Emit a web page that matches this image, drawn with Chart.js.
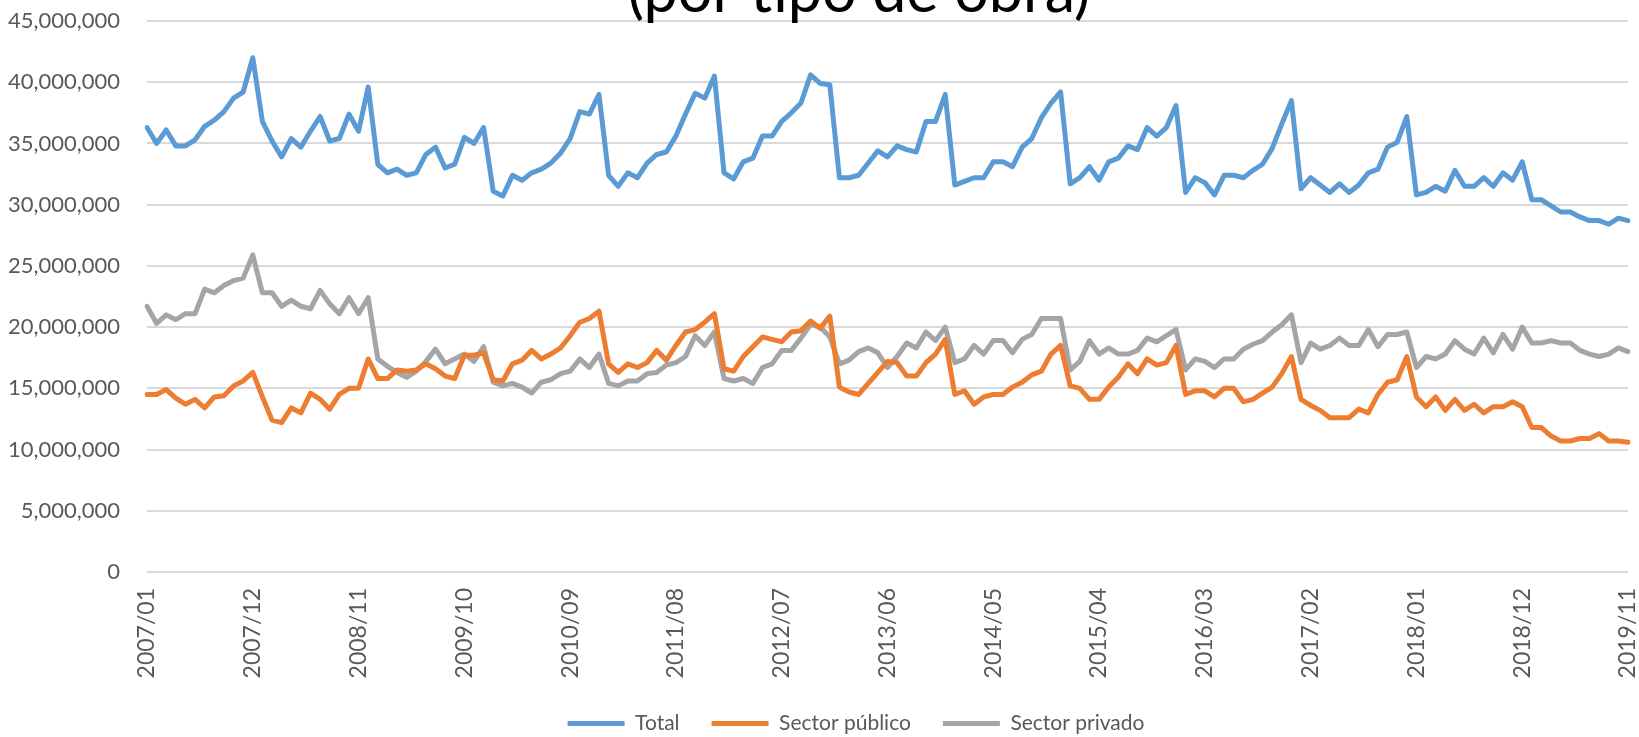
<!DOCTYPE html>
<html>
<head>
<meta charset="utf-8">
<script src="https://cdn.jsdelivr.net/npm/chart.js@4.4.1/dist/chart.umd.min.js"></script>
<style>
  html, body { margin: 0; padding: 0; background: #fff; }
</style>
</head>
<body>
<canvas id="myChart" width="1639" height="737"></canvas>
<script>
// values in millions, monthly from 2007/01 to 2019/11
const titleText = "(por tipo de obra)";
const startYear = 2007;
const monthCount = 155;
const xTickLabels = ["2007/01", "2007/12", "2008/11", "2009/10", "2010/09", "2011/08", "2012/07",
  "2013/06", "2014/05", "2015/04", "2016/03", "2017/02", "2018/01", "2018/12", "2019/11"];
const yTicks = [0, 5, 10, 15, 20, 25, 30, 35, 40, 45];

const total = [
  36.3, 35.0, 36.1, 34.8, 34.8, 35.3, 36.4, 36.9, 37.6, 38.7, 39.2, 42.0,
  36.8, 35.2, 33.9, 35.4, 34.7, 36.0, 37.2, 35.2, 35.4, 37.4, 36.0, 39.6,
  33.3, 32.6, 32.9, 32.4, 32.6, 34.1, 34.7, 33.0, 33.3, 35.5, 35.0, 36.3,
  31.1, 30.7, 32.4, 32.0, 32.6, 32.9, 33.4, 34.2, 35.4, 37.6, 37.4, 39.0,
  32.4, 31.5, 32.6, 32.2, 33.4, 34.1, 34.3, 35.6, 37.4, 39.1, 38.7, 40.5,
  32.6, 32.1, 33.5, 33.8, 35.6, 35.6, 36.8, 37.5, 38.3, 40.6, 39.9, 39.8,
  32.2, 32.2, 32.4, 33.4, 34.4, 33.9, 34.8, 34.5, 34.3, 36.8, 36.8, 39.0,
  31.6, 31.9, 32.2, 32.2, 33.5, 33.5, 33.1, 34.7, 35.4, 37.1, 38.3, 39.2,
  31.7, 32.2, 33.1, 32.0, 33.5, 33.8, 34.8, 34.5, 36.3, 35.6, 36.3, 38.1,
  31.0, 32.2, 31.8, 30.8, 32.4, 32.4, 32.2, 32.8, 33.3, 34.6, 36.6, 38.5,
  31.3, 32.2, 31.6, 31.0, 31.7, 31.0, 31.6, 32.6, 32.9, 34.7, 35.1, 37.2,
  30.8, 31.0, 31.5, 31.1, 32.8, 31.5, 31.5, 32.2, 31.5, 32.6, 32.0, 33.5,
  30.4, 30.4, 29.9, 29.4, 29.4, 29.0, 28.7, 28.7, 28.4, 28.9, 28.7
];
const publico = [
  14.5, 14.5, 14.9, 14.2, 13.7, 14.1, 13.4, 14.3, 14.4, 15.2, 15.6, 16.3,
  14.3, 12.4, 12.2, 13.4, 13.0, 14.6, 14.1, 13.3, 14.5, 15.0, 15.0, 17.4,
  15.8, 15.8, 16.5, 16.4, 16.5, 17.0, 16.6, 16.0, 15.8, 17.7, 17.7, 17.9,
  15.7, 15.6, 17.0, 17.3, 18.1, 17.4, 17.8, 18.3, 19.3, 20.4, 20.7, 21.3,
  17.0, 16.3, 17.0, 16.7, 17.1, 18.1, 17.3, 18.5, 19.6, 19.8, 20.4, 21.1,
  16.6, 16.4, 17.6, 18.4, 19.2, 19.0, 18.8, 19.6, 19.7, 20.5, 19.9, 20.9,
  15.1, 14.7, 14.5, 15.4, 16.3, 17.2, 17.1, 16.0, 16.0, 17.1, 17.8, 19.0,
  14.5, 14.8, 13.7, 14.3, 14.5, 14.5, 15.1, 15.5, 16.1, 16.4, 17.8, 18.5,
  15.2, 15.0, 14.1, 14.1, 15.1, 15.9, 17.0, 16.2, 17.4, 16.9, 17.1, 18.5,
  14.5, 14.8, 14.8, 14.3, 15.0, 15.0, 13.9, 14.1, 14.6, 15.1, 16.2, 17.6,
  14.1, 13.6, 13.2, 12.6, 12.6, 12.6, 13.3, 13.0, 14.5, 15.5, 15.7, 17.6,
  14.3, 13.5, 14.3, 13.2, 14.1, 13.2, 13.7, 13.0, 13.5, 13.5, 13.9, 13.5,
  11.8, 11.8, 11.1, 10.7, 10.7, 10.9, 10.9, 11.3, 10.7, 10.7, 10.6
];
const privado = [
  21.7, 20.3, 21.0, 20.6, 21.1, 21.1, 23.1, 22.8, 23.4, 23.8, 24.0, 25.9,
  22.8, 22.8, 21.7, 22.2, 21.7, 21.5, 23.0, 21.9, 21.1, 22.4, 21.1, 22.4,
  17.4, 16.8, 16.3, 15.9, 16.4, 17.2, 18.2, 17.0, 17.4, 17.8, 17.2, 18.4,
  15.5, 15.2, 15.4, 15.1, 14.6, 15.5, 15.7, 16.2, 16.4, 17.4, 16.7, 17.8,
  15.4, 15.2, 15.6, 15.6, 16.2, 16.3, 16.9, 17.1, 17.6, 19.3, 18.5, 19.6,
  15.8, 15.6, 15.8, 15.4, 16.7, 17.0, 18.1, 18.1, 19.1, 20.2, 20.0, 19.2,
  17.0, 17.3, 18.0, 18.3, 17.9, 16.7, 17.6, 18.7, 18.3, 19.6, 18.9, 20.0,
  17.1, 17.4, 18.5, 17.8, 18.9, 18.9, 17.9, 19.0, 19.4, 20.7, 20.7, 20.7,
  16.5, 17.2, 18.9, 17.8, 18.3, 17.8, 17.8, 18.1, 19.1, 18.8, 19.3, 19.8,
  16.5, 17.4, 17.2, 16.7, 17.4, 17.4, 18.2, 18.6, 18.9, 19.6, 20.2, 21.0,
  17.1, 18.7, 18.2, 18.5, 19.1, 18.5, 18.5, 19.8, 18.4, 19.4, 19.4, 19.6,
  16.7, 17.6, 17.4, 17.8, 18.9, 18.2, 17.8, 19.1, 17.9, 19.4, 18.2, 20.0,
  18.7, 18.7, 18.9, 18.7, 18.7, 18.1, 17.8, 17.6, 17.8, 18.3, 18.0
];

const months = [];
for (let i = 0; i < monthCount; i++) {
  let m = "" + (i % 12 + 1);
  if (m.length < 2) m = "0" + m;
  months.push((startYear + Math.floor(i / 12)) + "/" + m);
}

const labelColor = "#595959";

const cutTitle = {
  id: "cutTitle",
  afterLayout(chart) {
    // legend sits a little right of the canvas centre in the original
    chart.legend.left += 42;
    chart.legend.right += 42;
  },
  afterDraw(chart) {
    const ctx = chart.ctx;
    ctx.save();
    ctx.font = "61px Lato";
    ctx.fillStyle = "#000";
    ctx.textAlign = "center";
    ctx.textBaseline = "alphabetic";
    ctx.fillText(titleText, 859, 12);
    ctx.restore();
  }
};

function line(label, color, data) {
  return {
    label: label,
    data: data,
    borderColor: color,
    backgroundColor: color,
    borderWidth: 5,
    pointRadius: 0,
    pointHoverRadius: 0,
    tension: 0,
    borderJoinStyle: "round",
    borderCapStyle: "round"
  };
}

const ctx = document.getElementById("myChart").getContext("2d");
const chart = new Chart(ctx, {
  type: "line",
  data: {
    labels: months,
    datasets: [
      line("Total", "#5B9BD5", total),
      line("Sector público", "#ED7D31", publico),
      line("Sector privado", "#A5A5A5", privado)
    ]
  },
  options: {
    responsive: false,
    animation: false,
    devicePixelRatio: 1,
    layout: { padding: { top: 21, right: 11, left: 0, bottom: 0 } },
    plugins: {
      title: { display: false },
      tooltip: { enabled: false },
      legend: {
        position: "bottom",
        maxHeight: 56,
        labels: {
          color: labelColor,
          font: { family: "Lato", size: 21 },
          boxWidth: 57,
          boxHeight: 5,
          padding: 32,
          generateLabels(chart) {
            const items = Chart.defaults.plugins.legend.labels.generateLabels(chart);
            items.forEach(it => { it.lineWidth = 0; });
            return items;
          }
        }
      }
    },
    scales: {
      x: {
        grid: { display: false, drawTicks: false },
        border: { display: false },
        afterFit(scale) {
          scale.height = 109;
          scale.paddingLeft = 0;
          scale.paddingRight = 0;
        },
        ticks: {
          autoSkip: false,
          maxRotation: 90,
          minRotation: 90,
          padding: 16,
          color: labelColor,
          font: { family: "Lato", size: 23 },
          callback(val) {
            const lab = this.getLabelForValue(val);
            return xTickLabels.includes(lab) ? lab : "";
          }
        }
      },
      y: {
        min: yTicks[0],
        max: yTicks[yTicks.length - 1],
        afterFit(scale) {
          scale.width = 147;
          scale.paddingTop = 0;
          scale.paddingBottom = 0;
        },
        afterBuildTicks(scale) { scale.ticks = yTicks.map(v => ({ value: v })); },
        grid: { color: "#d9d9d9", lineWidth: 2, drawTicks: false },
        border: { display: false },
        ticks: {
          padding: 27,
          color: labelColor,
          font: { family: "Lato", size: 22 },
          callback(val) { return (val * 1000000).toLocaleString("en-US"); }
        }
      }
    }
  },
  plugins: [cutTitle]
});
</script>
</body>
</html>
